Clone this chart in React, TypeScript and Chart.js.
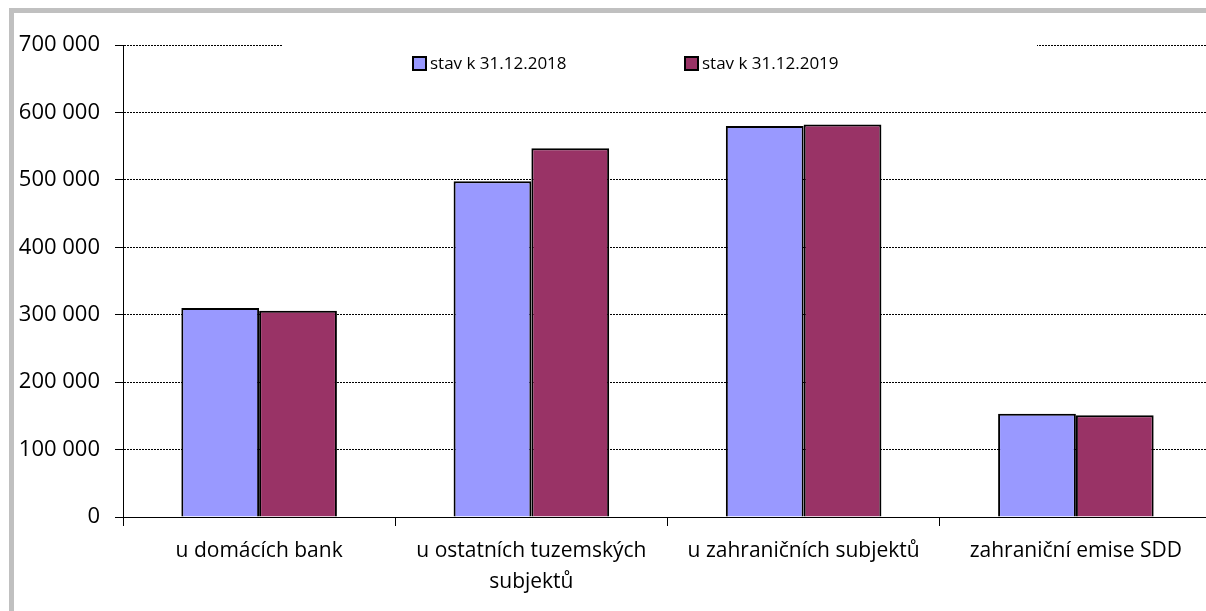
import React, { useEffect, useRef } from "react";
import { Chart, registerables } from "chart.js";
Chart.register(...registerables);

const categories: string[][] = [
  ["u domácích bank"],
  ["u ostatních tuzemských", "subjektů"],
  ["u zahraničních subjektů"],
  ["zahraniční emise SDD"],
];
const seriesLabels = ["stav k 31.12.2018", "stav k 31.12.2019"];
const values2018 = [310000, 498000, 580000, 153000];
const values2019 = [306000, 547000, 582000, 151000];
const seriesColors = ["#9999FF", "#993366"];
const yTickLabels = ["0", "100 000", "200 000", "300 000", "400 000", "500 000", "600 000", "700 000"];

const FONT = "'Open Sans', 'Noto Sans', sans-serif";

const boxLegend = {
  id: "boxLegend",
  afterDraw(chart: any) {
    const ctx = chart.ctx as CanvasRenderingContext2D;
    const area = chart.chartArea;
    ctx.save();
    ctx.fillStyle = "#ffffff";
    ctx.fillRect(283, area.top - 12, 754, 44);
    ctx.font = `17px ${FONT}`;
    ctx.textBaseline = "middle";
    ctx.textAlign = "left";
    const starts = [413, 685];
    chart.data.datasets.forEach((ds: any, i: number) => {
      const x = starts[i];
      const y = area.top + 12;
      ctx.fillStyle = ds.backgroundColor;
      ctx.fillRect(x, y, 13, 13);
      ctx.lineWidth = 2;
      ctx.strokeStyle = "#000";
      ctx.strokeRect(x, y, 13, 13);
      ctx.fillStyle = "#000";
      ctx.fillText(ds.label, x + 17, y + 7);
    });
    ctx.restore();
  },
};

export default function App() {
  const ref = useRef<HTMLCanvasElement>(null);
  useEffect(() => {
    if (!ref.current) return;
    const chart = new Chart(ref.current, {
      type: "bar",
      data: {
        labels: categories,
        datasets: [
          {
            label: seriesLabels[0],
            data: values2018,
            backgroundColor: seriesColors[0],
            borderColor: "#000",
            borderWidth: 2,
            inflateAmount: 0,
          },
          {
            label: seriesLabels[1],
            data: values2019,
            backgroundColor: seriesColors[1],
            borderColor: "#000",
            borderWidth: 2,
            inflateAmount: 0,
          },
        ],
      },
      options: {
        animation: false,
        responsive: false,
        devicePixelRatio: 1,
        layout: { padding: { top: 45, right: 18, bottom: 0, left: 0 } },
        datasets: { bar: { categoryPercentage: 0.5714, barPercentage: 1 } },
        plugins: { legend: { display: false }, tooltip: { enabled: false } },
        scales: {
          x: {
            afterFit: (s: any) => {
              s.height = 94;
            },
            grid: {
              offset: true,
              drawOnChartArea: false,
              drawTicks: true,
              tickLength: 9,
              color: "#000",
            },
            border: { display: true, color: "#000", width: 1 },
            ticks: {
              color: "#000",
              padding: 10,
              maxRotation: 0,
              autoSkip: false,
              font: { family: FONT, size: 21, lineHeight: 1.45 },
            },
          },
          y: {
            min: 0,
            max: 700000,
            afterFit: (s: any) => {
              s.width = 123;
            },
            grid: {
              color: "#000",
              lineWidth: 1,
              drawTicks: true,
              tickLength: 8,
            },
            border: { display: true, color: "#000", width: 1, dash: [2, 1] },
            ticks: {
              stepSize: 100000,
              color: "#000",
              padding: 15,
              font: { family: FONT, size: 22 },
              callback: (_v: any, i: number) => yTickLabels[i],
            },
          },
        },
      },
      plugins: [boxLegend],
    });
    return () => chart.destroy();
  }, []);

  return (
    <div
      style={{
        position: "fixed",
        left: 0,
        top: 0,
        width: 1206,
        height: 611,
        overflow: "hidden",
        background: "#fff",
      }}
    >
      <div
        style={{
          position: "absolute",
          left: 9,
          top: 8,
          width: 1300,
          height: 700,
          borderLeft: "5px solid #c0c0c0",
          borderTop: "5px solid #c0c0c0",
        }}
      />
      <canvas
        ref={ref}
        width={1230}
        height={611}
        style={{ position: "absolute", left: 0, top: 0, width: 1230, height: 611 }}
      />
    </div>
  );
}
